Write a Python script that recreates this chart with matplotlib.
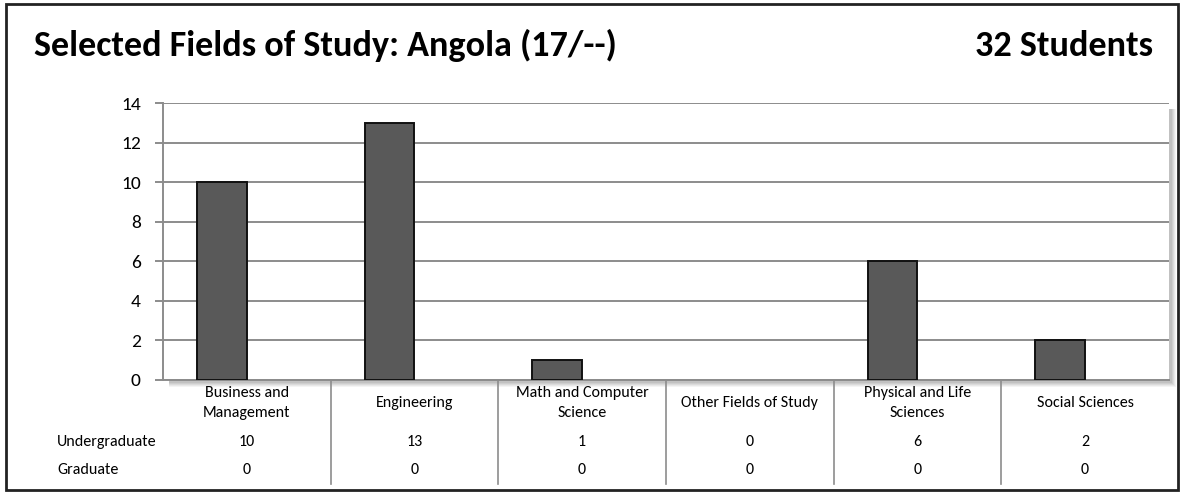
import matplotlib
matplotlib.use("Agg")
import matplotlib.pyplot as plt
from matplotlib.patches import Rectangle
from matplotlib.lines import Line2D
import matplotlib.transforms as mtransforms

categories = ["Business and\nManagement", "Engineering", "Math and Computer\nScience",
              "Other Fields of Study", "Physical and Life\nSciences", "Social Sciences"]
undergraduate = [10, 13, 1, 0, 6, 2]
graduate = [0, 0, 0, 0, 0, 0]
row_labels = ["Undergraduate", "Graduate"]
y_ticks = [0, 2, 4, 6, 8, 10, 12, 14]
title = "Selected Fields of Study: Angola (17/--)"
total_label = "32 Students"

plt.rcParams["font.family"] = ["Carlito", "DejaVu Sans"]

W, H = 1184, 495
fig = plt.figure(figsize=(W / 100, H / 100), dpi=100)
fig.patch.set_facecolor("white")


def fx(px):
    return px / W


def fy(py):
    return 1 - py / H


# outer frame
fig.add_artist(Rectangle((fx(6), fy(490)), fx(1178) - fx(6), fy(4) - fy(490),
                         transform=fig.transFigure, fill=False,
                         edgecolor="#222222", linewidth=2))

fig.text(fx(34), fy(56), title, fontsize=26, fontweight="bold",
         ha="left", va="baseline", color="black")
fig.text(fx(1153), fy(56), total_label, fontsize=26, fontweight="bold",
         ha="right", va="baseline", color="black")

left, right, top, bottom = 163, 1169, 103, 380
ax_rect = [fx(left), fy(bottom), fx(right) - fx(left), fy(top) - fy(bottom)]

# soft shadow behind the plot area
for i, a in enumerate([0.08, 0.10, 0.12, 0.14, 0.16]):
    off = 7 - i
    fig.add_artist(Rectangle((fx(left + 6), fy(bottom + off)),
                             fx(right + off) - fx(left + 6),
                             fy(top + 6) - fy(bottom + off),
                             transform=fig.transFigure, facecolor="#7f7f7f",
                             edgecolor="none", alpha=a, zorder=0))

ax = fig.add_axes(ax_rect, zorder=1)
ax.set_facecolor("white")

n = len(categories)
x = list(range(n))
bw = 50 / 168
ax.bar([i - bw / 2 for i in x], undergraduate, width=bw, color="#595959",
       edgecolor="#111111", linewidth=[1.4 if v else 0 for v in undergraduate],
       zorder=3)
ax.bar([i + bw / 2 for i in x], graduate, width=bw, color="#595959",
       edgecolor="#111111", linewidth=[1.4 if v else 0 for v in graduate],
       zorder=3)

ax.set_xlim(-0.5, n - 0.5)
ax.set_ylim(0, 14)
ax.set_yticks(y_ticks)
ax.set_yticklabels([str(v) for v in y_ticks], fontsize=14)
ax.set_xticks([])
ax.yaxis.grid(True, color="#8c8c8c", linewidth=1.4, zorder=0)
ax.set_axisbelow(True)
for s in ["top", "right"]:
    ax.spines[s].set_visible(False)
for s in ["left", "bottom"]:
    ax.spines[s].set_color("#8c8c8c")
    ax.spines[s].set_linewidth(1.4)
ax.tick_params(axis="y", direction="out", length=6, width=1.4, color="#8c8c8c",
               pad=10, labelcolor="black")

# data table underneath the axis
trans = mtransforms.blended_transform_factory(ax.transData, fig.transFigure)
for i, cat in enumerate(categories):
    fig.text(i, fy(403), cat, transform=trans, ha="center", va="center",
             fontsize=11.5, linespacing=1.6, color="black")
    fig.text(i, fy(442), str(undergraduate[i]), transform=trans, ha="center",
             va="center", fontsize=11.5, color="black")
    fig.text(i, fy(470), str(graduate[i]), transform=trans, ha="center",
             va="center", fontsize=11.5, color="black")
for i in range(n - 1):
    fig.add_artist(Line2D([i + 0.5, i + 0.5], [fy(380), fy(484)], transform=trans,
                          color="#8c8c8c", linewidth=1.2))
fig.text(fx(57), fy(442), row_labels[0], ha="left", va="center", fontsize=11.5)
fig.text(fx(57), fy(470), row_labels[1], ha="left", va="center", fontsize=11.5)

fig.savefig("out.png", dpi=100)
